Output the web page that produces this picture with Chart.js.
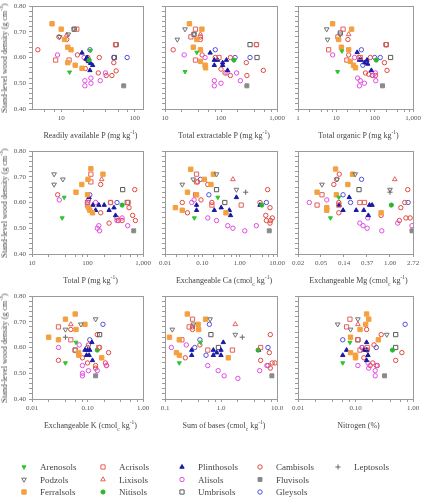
<!DOCTYPE html>
<html>
<head>
<meta charset="utf-8">
<script src="https://cdn.jsdelivr.net/npm/chart.js@4.4.1/dist/chart.umd.min.js"></script>
<style>
  body { margin: 0; background: #fff; }
  #wrap { position: relative; width: 422px; height: 497px; font-family: "Liberation Serif", "DejaVu Serif", serif; color: #333; overflow: hidden; }
  #wrap canvas { position: absolute; }
  .xt { position: absolute; font-size: 8px; line-height: 10px; white-space: nowrap; transform: translateX(-50%); color: #444; filter: grayscale(100%); }
  .yt { position: absolute; font-size: 8px; line-height: 10px; white-space: nowrap; transform: translate(-50%, -50%) rotate(-90deg); color: #444; filter: grayscale(100%); }
  sup, sub { font-size: 5.5px; line-height: 0; }
  .leg { position: absolute; font-size: 9px; line-height: 10px; white-space: nowrap; color: #444; filter: grayscale(100%); }
</style>
</head>
<body>
<div id="wrap"></div>
<script>
// soil groups, in legend order (column by column)
const soils = ['Arenosols', 'Podzols', 'Ferralsols', 'Acrisols', 'Lixisols', 'Nitisols',
  'Plinthosols', 'Alisols', 'Umbrisols', 'Cambisols', 'Fluvisols', 'Gleysols', 'Leptosols'];

// [x, stand-level wood density] per soil group, one object per panel
const readilyP = {
  Arenosols: [[13, 0.543], [25, 0.627]],
  Podzols: [[15, 0.71], [12.5, 0.69], [9.5, 0.68]],
  Ferralsols: [[7.5, 0.731], [10, 0.71], [11.1, 0.67], [12.3, 0.64], [13.6, 0.63], [12.3, 0.58], [15.5, 0.57], [19.2, 0.558]],
  Acrisols: [[16.3, 0.71], [8.4, 0.59], [12.8, 0.59], [55, 0.65]],
  Lixisols: [[11.9, 0.688]],
  Nitisols: [[24, 0.59]],
  Plinthosols: [[19.2, 0.618], [21.8, 0.594], [23.5, 0.585], [25, 0.578], [26.8, 0.57], [24.6, 0.55], [22.5, 0.6]],
  Alisols: [[8.9, 0.61], [21, 0.51], [21, 0.49], [25.4, 0.50], [25.4, 0.52], [34, 0.51], [40, 0.54], [20.5, 0.60]],
  Umbrisols: [[15, 0.71], [56, 0.65], [53, 0.60]],
  Cambisols: [[4.8, 0.63], [9.3, 0.68], [11.9, 0.67], [16.6, 0.61], [22.7, 0.59], [21.3, 0.557], [33, 0.60], [32, 0.54], [41, 0.53], [49, 0.53], [52, 0.58], [56, 0.548], [55, 0.65], [23, 0.60]],
  Fluvisols: [[71, 0.49]],
  Gleysols: [[24.6, 0.63], [52, 0.60], [79, 0.60]],
  Leptosols: []
};
const totalExtP = {
  Arenosols: [[22.8, 0.545], [37, 0.62]],
  Podzols: [[22.8, 0.71], [16.6, 0.67], [33, 0.69]],
  Ferralsols: [[27.3, 0.731], [45.6, 0.71], [37, 0.67], [32, 0.64], [43, 0.63], [43, 0.585], [52, 0.57], [53, 0.56]],
  Acrisols: [[35, 0.71], [29, 0.68], [35, 0.59], [92, 0.60], [430, 0.65]],
  Lixisols: [[43, 0.69]],
  Nitisols: [[170, 0.59]],
  Plinthosols: [[64, 0.618], [76, 0.59], [87, 0.59], [107, 0.58], [76, 0.57], [107, 0.57], [125, 0.59], [131, 0.55]],
  Alisols: [[22, 0.61], [52, 0.60], [76, 0.51], [76, 0.49], [100, 0.50], [128, 0.54], [190, 0.54], [222, 0.51]],
  Umbrisols: [[33, 0.69], [330, 0.65], [440, 0.60]],
  Cambisols: [[14, 0.63], [43, 0.68], [43, 0.67], [46, 0.61], [79, 0.60], [100, 0.555], [118, 0.54], [147, 0.53], [147, 0.60], [283, 0.58], [290, 0.53], [570, 0.55], [430, 0.65]],
  Fluvisols: [[290, 0.49]],
  Gleysols: [[79, 0.63], [178, 0.60], [330, 0.60]],
  Leptosols: []
};
const totalOrgP = {
  Arenosols: [[10.8, 0.545], [14, 0.625]],
  Podzols: [[5.6, 0.71], [5.9, 0.67], [12.7, 0.69]],
  Ferralsols: [[8, 0.731], [25, 0.71], [11.5, 0.67], [13.5, 0.64], [21, 0.63], [23, 0.585], [28, 0.57], [31.6, 0.56]],
  Acrisols: [[15, 0.71], [11, 0.68], [6.3, 0.63], [18.8, 0.59], [42, 0.60], [200, 0.65]],
  Lixisols: [[21, 0.69]],
  Nitisols: [[110, 0.59]],
  Plinthosols: [[35, 0.62], [40, 0.59], [45, 0.59], [55, 0.58], [63, 0.59], [66, 0.575], [82, 0.55]],
  Alisols: [[8, 0.61], [30, 0.60], [36, 0.52], [42, 0.51], [40, 0.49], [54, 0.50], [90, 0.53], [105, 0.54], [107, 0.51]],
  Umbrisols: [[12.7, 0.695], [200, 0.65], [260, 0.60]],
  Cambisols: [[20, 0.67], [21, 0.61], [38.5, 0.60], [77, 0.60], [57.6, 0.54], [87, 0.53], [180, 0.58], [210, 0.55], [200, 0.65], [70, 0.535], [105, 0.53]],
  Fluvisols: [[160, 0.49]],
  Gleysols: [[45, 0.63], [49, 0.57], [100, 0.60], [140, 0.60]],
  Leptosols: []
};
const totalP = {
  Arenosols: [[35, 0.54], [38, 0.62]],
  Podzols: [[25, 0.71], [25, 0.67], [36, 0.69]],
  Ferralsols: [[115, 0.731], [190, 0.71], [102, 0.69], [79, 0.67], [62, 0.64], [100, 0.63], [104, 0.58], [110, 0.57], [123, 0.56]],
  Acrisols: [[115, 0.71], [115, 0.68], [100, 0.59], [260, 0.60], [540, 0.60]],
  Lixisols: [[180, 0.69]],
  Nitisols: [[420, 0.59]],
  Plinthosols: [[107, 0.62], [125, 0.59], [160, 0.59], [200, 0.59], [140, 0.57], [245, 0.57], [300, 0.58], [320, 0.55]],
  Alisols: [[31, 0.61], [100, 0.60], [140, 0.60], [150, 0.50], [160, 0.51], [165, 0.49], [340, 0.53], [420, 0.54], [530, 0.51]],
  Umbrisols: [[100, 0.60], [430, 0.65], [520, 0.60]],
  Cambisols: [[29, 0.63], [173, 0.67], [104, 0.61], [173, 0.56], [260, 0.60], [245, 0.52], [340, 0.54], [360, 0.53], [420, 0.53], [560, 0.58], [650, 0.55], [710, 0.65], [730, 0.53]],
  Fluvisols: [[680, 0.49]],
  Gleysols: [[110, 0.63], [340, 0.60]],
  Leptosols: []
};
const exchCa = {
  Arenosols: [[0.061, 0.54], [0.26, 0.62]],
  Podzols: [[0.029, 0.67], [0.057, 0.69], [0.24, 0.71], [0.82, 0.65]],
  Ferralsols: [[0.049, 0.729], [0.198, 0.71], [0.113, 0.69], [0.17, 0.67], [0.04, 0.64], [0.07, 0.63], [0.019, 0.58], [0.029, 0.57], [0.43, 0.56]],
  Acrisols: [[0.07, 0.71], [0.07, 0.68], [0.18, 0.59], [1.1, 0.59], [0.066, 0.63]],
  Lixisols: [[0.66, 0.69]],
  Nitisols: [[3.9, 0.59]],
  Plinthosols: [[0.07, 0.59], [0.07, 0.57], [0.21, 0.57], [0.32, 0.58], [0.53, 0.57], [0.57, 0.55], [0.82, 0.62], [3.5, 0.59]],
  Alisols: [[0.052, 0.60], [0.06, 0.61], [0.14, 0.54], [0.24, 0.53], [0.48, 0.51], [0.66, 0.50], [1.37, 0.49], [2.8, 0.51]],
  Umbrisols: [[0.24, 0.65], [0.4, 0.60]],
  Cambisols: [[0.029, 0.60], [0.04, 0.56], [0.092, 0.61], [0.14, 0.67], [0.075, 0.68], [3.5, 0.60], [5.6, 0.65], [6.5, 0.58], [5, 0.55], [5.2, 0.53], [6.7, 0.53], [7.5, 0.54], [6.5, 0.52], [0.18, 0.60]],
  Fluvisols: [[6.2, 0.49]],
  Gleysols: [[0.089, 0.69], [0.15, 0.63], [5.2, 0.60]],
  Leptosols: [[1.45, 0.64]]
};
const exchMg = {
  Arenosols: [[0.075, 0.54], [0.108, 0.62]],
  Podzols: [[0.052, 0.67], [0.10, 0.69], [0.22, 0.71], [1.0, 0.65]],
  Ferralsols: [[0.094, 0.73], [0.196, 0.71], [0.16, 0.67], [0.042, 0.64], [0.097, 0.63], [0.064, 0.58], [0.064, 0.57], [0.68, 0.56]],
  Acrisols: [[0.052, 0.63], [0.042, 0.59], [0.108, 0.59], [0.27, 0.60], [0.33, 0.60]],
  Lixisols: [[1.23, 0.69]],
  Nitisols: [[1.06, 0.59]],
  Plinthosols: [[0.17, 0.62], [0.11, 0.59], [0.13, 0.57], [0.23, 0.57], [0.32, 0.57], [0.39, 0.55], [0.41, 0.59], [0.46, 0.59]],
  Alisols: [[0.030, 0.60], [0.064, 0.61], [0.27, 0.52], [0.31, 0.51], [0.37, 0.50], [0.38, 0.54], [0.70, 0.49], [1.4, 0.52], [2.6, 0.51]],
  Umbrisols: [[0.26, 0.65]],
  Cambisols: [[0.11, 0.71], [0.098, 0.69], [0.087, 0.67], [0.108, 0.60], [0.108, 0.56], [0.68, 0.55], [2.16, 0.65], [1.9, 0.60], [1.6, 0.58], [2.0, 0.54], [2.4, 0.54], [1.5, 0.53]],
  Fluvisols: [[2.6, 0.49]],
  Gleysols: [[0.29, 0.69], [0.13, 0.63], [0.18, 0.60], [2.2, 0.60]],
  Leptosols: [[1.0, 0.64]]
};
const exchK = {
  Arenosols: [[0.04, 0.54], [0.062, 0.62]],
  Podzols: [[0.04, 0.67], [0.076, 0.69], [0.14, 0.71]],
  Ferralsols: [[0.060, 0.73], [0.04, 0.71], [0.09, 0.69], [0.062, 0.67], [0.020, 0.64], [0.030, 0.63], [0.069, 0.58], [0.07, 0.57], [0.18, 0.56]],
  Acrisols: [[0.030, 0.68], [0.050, 0.63], [0.060, 0.59], [0.16, 0.60]],
  Lixisols: [[0.050, 0.69]],
  Nitisols: [[0.15, 0.59]],
  Plinthosols: [[0.12, 0.62], [0.09, 0.59], [0.10, 0.59], [0.11, 0.59], [0.096, 0.57], [0.107, 0.57], [0.123, 0.55]],
  Alisols: [[0.030, 0.60], [0.071, 0.61], [0.081, 0.53], [0.081, 0.50], [0.081, 0.49], [0.104, 0.51], [0.15, 0.51], [0.22, 0.53]],
  Umbrisols: [[0.165, 0.65], [0.06, 0.59]],
  Cambisols: [[0.05, 0.67], [0.030, 0.55], [0.104, 0.61], [0.10, 0.54], [0.14, 0.53], [0.15, 0.65], [0.165, 0.60], [0.24, 0.58], [0.21, 0.54], [0.22, 0.53], [0.081, 0.56], [0.14, 0.52]],
  Fluvisols: [[0.14, 0.49]],
  Gleysols: [[0.11, 0.63], [0.19, 0.69], [0.10, 0.60]],
  Leptosols: [[0.04, 0.64]]
};
const sumBases = {
  Arenosols: [[0.18, 0.54], [0.43, 0.62]],
  Podzols: [[0.135, 0.67], [0.32, 0.69], [0.64, 0.71], [1.8, 0.65]],
  Ferralsols: [[0.25, 0.73], [0.53, 0.71], [0.39, 0.69], [0.40, 0.67], [0.12, 0.64], [0.18, 0.63], [0.16, 0.58], [0.18, 0.57], [1.35, 0.56]],
  Acrisols: [[0.31, 0.71], [0.27, 0.68], [0.20, 0.63], [0.58, 0.59], [1.6, 0.59], [5.1, 0.60]],
  Lixisols: [[1.8, 0.69]],
  Nitisols: [[4.6, 0.59]],
  Plinthosols: [[0.30, 0.59], [0.30, 0.57], [0.73, 0.59], [0.73, 0.57], [0.84, 0.58], [1.0, 0.59], [1.0, 0.57], [1.1, 0.62], [4.7, 0.59]],
  Alisols: [[0.13, 0.60], [0.24, 0.61], [0.58, 0.53], [0.89, 0.51], [1.14, 0.49], [2.0, 0.48], [4.9, 0.51], [6.6, 0.53]],
  Umbrisols: [[0.66, 0.65], [0.9, 0.60]],
  Cambisols: [[0.31, 0.67], [0.23, 0.56], [0.42, 0.61], [7.6, 0.65], [7.3, 0.58], [5.1, 0.55], [6.9, 0.53], [7.6, 0.52], [8.2, 0.54], [9.2, 0.54], [0.31, 0.68]],
  Fluvisols: [[8.1, 0.49]],
  Gleysols: [[0.62, 0.69], [0.42, 0.63], [0.34, 0.60], [0.54, 0.57], [6.9, 0.60]],
  Leptosols: [[2.4, 0.64]]
};
const nitrogen = {
  Arenosols: [[0.06, 0.54], [0.08, 0.62]],
  Podzols: [[0.049, 0.69], [0.082, 0.67], [0.11, 0.71], [0.35, 0.65]],
  Ferralsols: [[0.156, 0.73], [0.17, 0.71], [0.15, 0.69], [0.12, 0.67], [0.082, 0.64], [0.25, 0.63], [0.082, 0.58], [0.1, 0.57], [0.1, 0.56]],
  Acrisols: [[0.08, 0.71], [0.07, 0.68], [0.11, 0.63], [0.12, 0.59], [0.16, 0.60]],
  Lixisols: [[0.11, 0.69]],
  Nitisols: [[0.44, 0.59]],
  Plinthosols: [[0.07, 0.59], [0.06, 0.57], [0.156, 0.62], [0.14, 0.59], [0.156, 0.59], [0.165, 0.57], [0.156, 0.55]],
  Alisols: [[0.11, 0.53], [0.13, 0.60], [0.17, 0.52], [0.22, 0.51], [0.22, 0.49], [0.165, 0.54], [0.23, 0.53]],
  Umbrisols: [[0.11, 0.63], [0.5, 0.65], [0.5, 0.60]],
  Cambisols: [[0.156, 0.67], [0.28, 0.65], [0.21, 0.61], [0.14, 0.56], [0.18, 0.53], [0.2, 0.54], [0.24, 0.53], [0.5, 0.55], [0.64, 0.58], [0.16, 0.59]],
  Fluvisols: [[0.32, 0.49]],
  Gleysols: [[0.73, 0.69], [0.06, 0.63], [0.23, 0.60], [0.13, 0.60]],
  Leptosols: []
};

const panelData = [readilyP, totalExtP, totalOrgP, totalP, exchCa, exchMg, exchK, sumBases, nitrogen];
const xMin = [4, 10, 1, 10, 0.01, Math.exp(-4), 0.01, 0.1, 0.01];
const xMax = [130, 1000, 1000, 1000, 10, Math.exp(1), 1, 10, 1];
const xTickValues = [
  [10, 100], [10, 100, 1000], [1, 10, 100, 1000],
  [10, 100, 1000], [0.01, 0.1, 1, 10],
  [Math.exp(-4), Math.exp(-3), Math.exp(-2), Math.exp(-1), 1, Math.exp(1)],
  [0.01, 0.1, 1], [0.1, 1, 10], [0.01, 0.1, 1]
];
const xTickLabels = [
  ['10', '100'], ['10', '100', '1,000'], ['1', '10', '100', '1,000'],
  ['10', '100', '1,000'], ['0.01', '0.10', '1.00', '10.00'],
  ['0.02', '0.05', '0.14', '0.37', '1.00', '2.72'],
  ['0.01', '0.10', '1.00'], ['0.1', '1.0', '10.0'], ['0.01', '0.10', '1.00']
];
// minor ticks inside each decade (not on the natural-log Mg panel)
const minorMult = [2, 4, 6, 8];
const hasMinor = [true, true, true, true, true, false, true, true, true];
const xTitles = [
  'Readily available P (mg kg<sup>-1</sup>)', 'Total extractable P (mg kg<sup>-1</sup>)', 'Total organic P (mg kg<sup>-1</sup>)',
  'Total P (mg kg<sup>-1</sup>)', 'Exchangeable Ca (cmol<sub>c</sub> kg<sup>-1</sup>)', 'Exchangeable Mg (cmol<sub>c</sub> kg<sup>-1</sup>)',
  'Exchangeable K (cmol<sub>c</sub> kg<sup>-1</sup>)', 'Sum of bases (cmol<sub>c</sub> kg<sup>-1</sup>)', 'Nitrogen (%)'
];
const yTickLabels = ['0.40', '0.50', '0.60', '0.70', '0.80'];
const yTitle = 'Stand-level wood density (g cm<sup>-3</sup>)';

// marker styles
const soilStyle = {
  Arenosols:   { shape: 'triangle', rot: 180, r: 2.3, color: '#2fc42f', fill: true },
  Podzols:     { shape: 'triangle', rot: 180, r: 2.7, color: '#707070', fill: false },
  Ferralsols:  { shape: 'rect', rot: 0, r: 3.1, color: '#f4a040', fill: true },
  Acrisols:    { shape: 'rect', rot: 0, r: 3.0, color: '#e4605a', fill: false },
  Lixisols:    { shape: 'triangle', rot: 0, r: 2.7, color: '#e4605a', fill: false },
  Nitisols:    { shape: 'circle', rot: 0, r: 2.1, color: '#2bb52b', fill: true },
  Plinthosols: { shape: 'triangle', rot: 0, r: 2.5, color: '#1a1aa6', fill: true },
  Alisols:     { shape: 'circle', rot: 0, r: 2.2, color: '#e04ce0', fill: false },
  Umbrisols:   { shape: 'rect', rot: 0, r: 3.0, color: '#5a5a5a', fill: false },
  Cambisols:   { shape: 'circle', rot: 0, r: 2.2, color: '#e0483f', fill: false },
  Fluvisols:   { shape: 'rect', rot: 0, r: 2.8, color: '#8a8a8a', fill: true },
  Gleysols:    { shape: 'circle', rot: 0, r: 2.2, color: '#5050dc', fill: false },
  Leptosols:   { shape: 'cross', rot: 0, r: 2.6, color: '#666666', fill: false }
};

// layout of the 3x3 grid (plot area edges in page pixels)
const colLeft = [32, 165, 298];
const colWidth = [111, 112, 115];
const rowTop = [6, 151, 296];
const rowH = 103;
const FONT = '"Liberation Serif", "DejaVu Serif", serif';
const AXIS = '#9a9a9a';

const wrap = document.getElementById('wrap');

const frame = {
  id: 'frame',
  beforeDatasetsDraw(chart) {
    const { ctx, chartArea: a } = chart;
    ctx.save();
    ctx.strokeStyle = AXIS;
    ctx.lineWidth = 1;
    ctx.strokeRect(Math.round(a.left) + 0.5, Math.round(a.top) + 0.5, Math.round(a.right - a.left), Math.round(a.bottom - a.top));
    ctx.restore();
  }
};

function buildXTicks(i) {
  const lo = xMin[i], hi = xMax[i];
  const t = xTickValues[i].map((v, k) => ({ value: v, lab: xTickLabels[i][k] }));
  if (hasMinor[i]) {
    for (let e = Math.floor(Math.log10(lo)); e <= Math.ceil(Math.log10(hi)); e++) {
      minorMult.forEach(m => {
        const v = m * Math.pow(10, e);
        if (v > lo && v < hi) t.push({ value: v, lab: '' });
      });
    }
  }
  return t.sort((a, b) => a.value - b.value);
}

panelData.forEach((pd, i) => {
  const r = Math.floor(i / 3), c = i % 3;
  const yW = c === 0 ? 32 : 4;
  const padL = c === 0 ? 0 : 6;
  const padT = 6, padR = 14, xH = 14, padB = 2;
  const cv = document.createElement('canvas');
  cv.width = padL + yW + colWidth[c] + padR;
  cv.height = padT + rowH + xH + padB;
  cv.style.left = (colLeft[c] - yW - padL) + 'px';
  cv.style.top = (rowTop[r] - padT) + 'px';
  wrap.appendChild(cv);

  const datasets = soils.map(s => {
    const st = soilStyle[s];
    return {
      label: s,
      data: pd[s].map(p => ({ x: p[0], y: p[1] })),
      pointStyle: st.shape,
      rotation: st.rot,
      radius: st.r,
      borderWidth: 1,
      borderColor: st.color,
      backgroundColor: st.fill ? st.color : 'rgba(0,0,0,0)'
    };
  });

  new Chart(cv, {
    type: 'scatter',
    data: { datasets },
    options: {
      responsive: false,
      animation: false,
      events: [],
      layout: { padding: { left: padL, top: padT, right: padR, bottom: padB } },
      plugins: { legend: { display: false }, tooltip: { enabled: false } },
      scales: {
        x: {
          type: 'logarithmic',
          min: xMin[i],
          max: xMax[i],
          afterBuildTicks: s => { s.ticks = buildXTicks(i); },
          afterFit: s => { s.height = xH; s.paddingLeft = 0; s.paddingRight = 0; },
          ticks: {
            autoSkip: false, maxRotation: 0, padding: 2, color: '#555',
            font: { family: FONT, size: 7 },
            callback: (v, idx, ts) => ts[idx].lab
          },
          grid: { drawOnChartArea: false, tickLength: 3, color: AXIS },
          border: { display: false }
        },
        y: {
          min: 0.4,
          max: 0.8,
          afterBuildTicks: s => {
            const t = [];
            for (let k = 0; k <= 20; k++) t.push({ value: +(0.4 + k * 0.02).toFixed(2) });
            s.ticks = t;
          },
          afterFit: s => { s.width = yW; s.paddingTop = 0; s.paddingBottom = 0; },
          ticks: {
            display: c === 0, autoSkip: false, padding: 3, color: '#555',
            font: { family: FONT, size: 7 },
            callback: (v, idx) => idx % 5 === 0 ? yTickLabels[idx / 5] : ''
          },
          grid: { drawOnChartArea: false, tickLength: 3, color: AXIS },
          border: { display: false }
        }
      }
    },
    plugins: [frame]
  });

  const xt = document.createElement('div');
  xt.className = 'xt';
  xt.innerHTML = xTitles[i];
  xt.style.left = (colLeft[c] + colWidth[c] / 2 + 3) + 'px';
  xt.style.top = (rowTop[r] + rowH + 22) + 'px';
  wrap.appendChild(xt);

  if (c === 0) {
    const yt = document.createElement('div');
    yt.className = 'yt';
    yt.innerHTML = yTitle;
    yt.style.left = '5px';
    yt.style.top = (rowTop[r] + rowH / 2) + 'px';
    wrap.appendChild(yt);
  }
});

// legend: 5 columns x 3 rows, filled column by column
const legX = [24, 103, 182, 260, 338];
const legY = [467, 479.5, 492];
const lc = document.createElement('canvas');
lc.width = 422; lc.height = 50;
lc.style.left = '0px'; lc.style.top = '450px';
wrap.appendChild(lc);
const lctx = lc.getContext('2d');

function drawMarker(ctx, st, x, y) {
  ctx.save();
  ctx.translate(x, y);
  ctx.rotate(st.rot * Math.PI / 180);
  ctx.lineWidth = 1;
  ctx.strokeStyle = st.color;
  ctx.fillStyle = st.color;
  const r = st.r;
  ctx.beginPath();
  if (st.shape === 'circle') {
    ctx.arc(0, 0, r, 0, Math.PI * 2);
  } else if (st.shape === 'rect') {
    const h = r * Math.SQRT1_2;
    ctx.rect(-h, -h, 2 * h, 2 * h);
  } else if (st.shape === 'triangle') {
    for (let k = 1; k <= 3; k++) {
      const a = k * 2 * Math.PI / 3;
      const px = Math.sin(a) * r, py = -Math.cos(a) * r;
      if (k === 1) ctx.moveTo(px, py); else ctx.lineTo(px, py);
    }
    ctx.closePath();
  } else if (st.shape === 'cross') {
    ctx.moveTo(0, -r); ctx.lineTo(0, r);
    ctx.moveTo(-r, 0); ctx.lineTo(r, 0);
  }
  if (st.fill) ctx.fill();
  ctx.stroke();
  ctx.restore();
}

soils.forEach((s, k) => {
  const col = Math.floor(k / 3), row = k % 3;
  drawMarker(lctx, soilStyle[s], legX[col], legY[row] - 450);
  const t = document.createElement('div');
  t.className = 'leg';
  t.textContent = s;
  t.style.left = (legX[col] + 16) + 'px';
  t.style.top = (legY[row] - 5) + 'px';
  wrap.appendChild(t);
});
</script>
</body>
</html>
